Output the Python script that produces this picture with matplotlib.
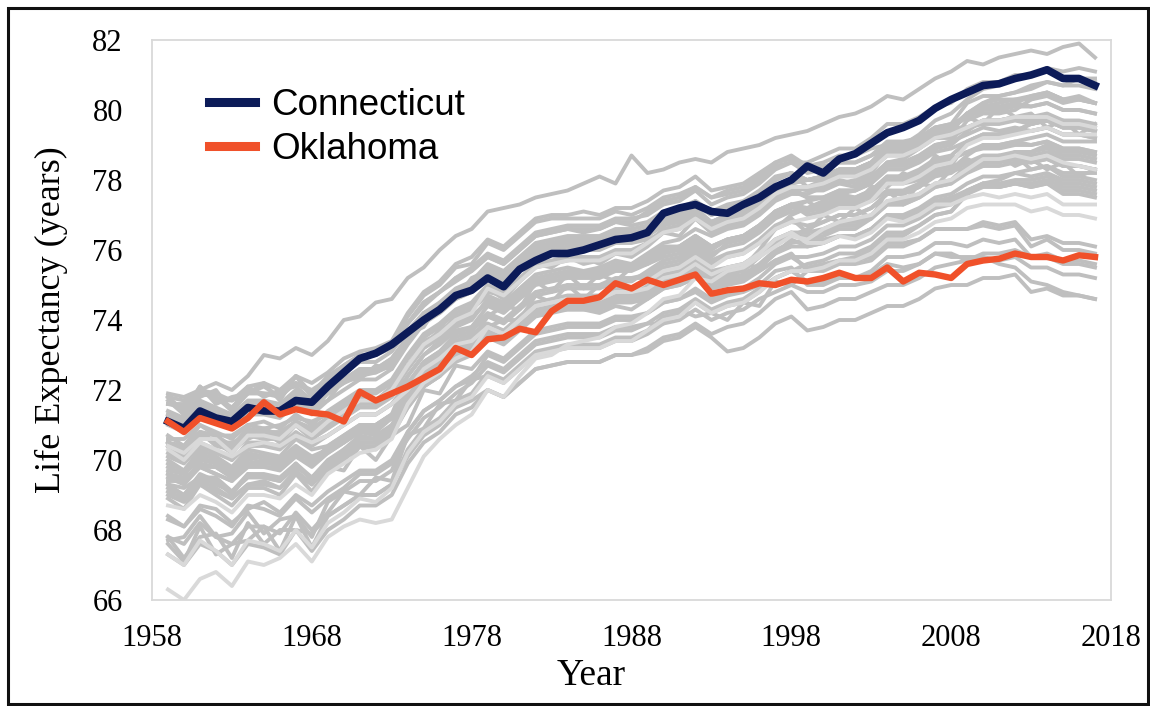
import matplotlib
matplotlib.use("Agg")
import matplotlib.pyplot as plt
from matplotlib.patches import Rectangle

# ---------------- data ----------------
years = list(range(1959, 2018))
x_ticks = [1958, 1968, 1978, 1988, 1998, 2008, 2018]
y_ticks = [66, 68, 70, 72, 74, 76, 78, 80, 82]

connecticut = [71.1, 70.9, 71.4, 71.2, 71.1, 71.5, 71.4, 71.4, 71.7, 71.65,
               72.1, 72.5, 72.9, 73.05, 73.3, 73.65, 74.0, 74.3, 74.7, 74.85,
               75.2, 74.95, 75.45, 75.7, 75.9, 75.9, 76.0, 76.15, 76.3, 76.35,
               76.5, 77.05, 77.2, 77.3, 77.1, 77.05, 77.3, 77.5, 77.8, 78.0,
               78.4, 78.2, 78.6, 78.75, 79.05, 79.35, 79.5, 79.7, 80.05, 80.3,
               80.5, 80.7, 80.75, 80.9, 81.0, 81.15, 80.9, 80.9, 80.7]

oklahoma = [71.1, 70.8, 71.2, 71.05, 70.9, 71.2, 71.65, 71.3, 71.45, 71.35,
            71.3, 71.1, 71.95, 71.7, 71.9, 72.1, 72.35, 72.6, 73.2, 73.0,
            73.45, 73.5, 73.75, 73.65, 74.25, 74.55, 74.55, 74.65, 75.05, 74.9,
            75.15, 75.0, 75.15, 75.3, 74.75, 74.85, 74.9, 75.05, 75.0, 75.15,
            75.1, 75.2, 75.35, 75.2, 75.2, 75.5, 75.1, 75.35, 75.3, 75.2,
            75.6, 75.7, 75.75, 75.9, 75.8, 75.8, 75.7, 75.85, 75.8]

g01 = [71.9, 71.8, 72.0, 72.2, 72.0, 72.4, 73.0, 72.9, 73.2, 73.0,
       73.4, 74.0, 74.1, 74.5, 74.6, 75.2, 75.5, 76.0, 76.4, 76.6,
       77.1, 77.2, 77.3, 77.5, 77.6, 77.7, 77.9, 78.1, 77.9, 78.7,
       78.2, 78.3, 78.5, 78.6, 78.5, 78.8, 78.9, 79.0, 79.2, 79.3,
       79.4, 79.6, 79.8, 79.9, 80.1, 80.4, 80.3, 80.6, 80.9, 81.1,
       81.4, 81.3, 81.5, 81.6, 81.7, 81.6, 81.8, 81.9, 81.5]
g02 = [70.5, 70.4, 70.8, 70.7, 70.4, 70.9, 70.8, 70.8, 71.1, 70.9,
       71.2, 71.5, 71.8, 71.7, 72.1, 72.7, 73.3, 73.7, 74.0, 74.3,
       74.7, 74.5, 74.9, 75.3, 75.4, 75.5, 75.4, 75.5, 75.7, 75.6,
       75.9, 76.2, 76.3, 76.6, 76.4, 76.6, 76.7, 77.0, 77.4, 77.6,
       77.6, 77.8, 77.9, 78.0, 78.2, 78.8, 79.0, 79.3, 79.7, 79.9,
       80.3, 80.6, 80.7, 80.9, 81.0, 81.2, 81.1, 81.2, 81.1]
g03 = [69.6, 69.4, 69.9, 69.8, 69.5, 69.9, 70.0, 69.8, 70.3, 70.0,
       70.2, 70.5, 70.8, 70.7, 71.0, 71.7, 72.3, 72.6, 73.0, 73.2,
       73.6, 73.4, 73.8, 74.2, 74.3, 74.3, 74.3, 74.2, 74.4, 74.3,
       74.6, 74.9, 75.0, 75.2, 75.0, 75.3, 75.5, 76.0, 76.6, 77.0,
       77.2, 77.4, 77.6, 77.7, 78.0, 78.5, 78.6, 78.9, 79.3, 79.5,
       79.9, 80.2, 80.4, 80.5, 80.6, 80.8, 80.7, 80.9, 80.9]
g04 = [71.6, 71.5, 71.9, 71.8, 71.4, 71.9, 71.9, 71.8, 72.2, 71.9,
       72.4, 72.7, 73.0, 73.0, 73.3, 74.1, 74.7, 75.0, 75.5, 75.6,
       76.2, 76.0, 76.4, 76.8, 76.9, 76.9, 76.9, 76.9, 77.1, 77.0,
       77.2, 77.5, 77.6, 77.8, 77.5, 77.6, 77.7, 78.0, 78.4, 78.5,
       78.5, 78.7, 78.9, 78.9, 79.2, 79.6, 79.6, 79.8, 80.1, 80.2,
       80.6, 80.8, 80.8, 81.0, 81.0, 81.1, 80.9, 80.9, 80.8]
g05 = [70.7, 70.4, 71.0, 70.8, 70.6, 71.0, 71.1, 70.9, 71.3, 71.0,
       71.4, 71.7, 72.0, 72.0, 72.3, 73.0, 73.6, 73.9, 74.3, 74.5,
       75.0, 74.8, 75.2, 75.6, 75.7, 75.8, 75.8, 75.8, 76.0, 76.0,
       76.2, 76.6, 76.7, 77.0, 76.7, 76.9, 77.0, 77.3, 77.7, 77.9,
       78.0, 78.1, 78.3, 78.3, 78.5, 79.0, 79.0, 79.2, 79.5, 79.6,
       80.2, 80.4, 80.4, 80.5, 80.7, 80.8, 80.7, 80.7, 80.6]
g06 = [70.6, 70.6, 71.0, 70.7, 70.7, 71.0, 70.9, 71.0, 71.2, 71.1,
       71.3, 71.6, 71.9, 71.9, 72.2, 72.9, 73.5, 73.8, 74.2, 74.4,
       74.8, 74.7, 75.1, 75.6, 75.5, 75.8, 75.6, 75.7, 75.9, 75.8,
       76.1, 76.5, 76.4, 76.9, 76.5, 76.7, 76.8, 77.2, 77.5, 77.8,
       77.8, 78.0, 78.2, 78.2, 78.4, 78.8, 78.8, 79.0, 79.3, 79.4,
       79.9, 80.2, 80.3, 80.3, 80.3, 80.5, 80.3, 80.4, 80.2]
g07 = [70.1, 69.9, 70.4, 70.2, 70.0, 70.4, 70.4, 70.3, 70.7, 70.4,
       70.7, 71.0, 71.3, 71.3, 71.6, 72.2, 72.8, 73.1, 73.5, 73.7,
       74.1, 73.9, 74.3, 74.7, 74.8, 74.9, 74.9, 74.9, 75.1, 75.1,
       75.4, 75.7, 75.8, 76.1, 75.8, 76.2, 76.3, 76.6, 77.0, 77.2,
       77.4, 77.5, 77.7, 77.7, 77.9, 78.5, 78.5, 78.7, 79.0, 79.1,
       79.7, 79.9, 79.9, 80.0, 80.3, 80.4, 80.2, 80.3, 80.2]
g08 = [71.0, 70.8, 71.3, 71.1, 70.9, 71.3, 71.3, 71.2, 71.6, 71.3,
       71.7, 72.0, 72.3, 72.3, 72.6, 73.3, 73.9, 74.2, 74.6, 74.8,
       75.3, 75.1, 75.5, 75.9, 76.0, 76.1, 76.1, 76.1, 76.3, 76.3,
       76.4, 76.7, 76.8, 77.1, 76.8, 77.0, 77.1, 77.4, 77.8, 78.0,
       78.0, 78.1, 78.3, 78.3, 78.5, 78.9, 78.9, 79.1, 79.4, 79.5,
       79.9, 80.1, 80.2, 80.3, 80.4, 80.5, 80.3, 80.3, 80.2]
g09 = [71.1, 70.9, 71.4, 71.2, 71.0, 71.4, 71.4, 71.3, 71.7, 71.4,
       71.9, 72.2, 72.4, 72.5, 72.7, 73.6, 74.2, 74.4, 74.8, 75.1,
       75.6, 75.4, 75.8, 76.2, 76.3, 76.4, 76.4, 76.4, 76.6, 76.6,
       76.7, 77.0, 77.1, 77.4, 77.1, 77.2, 77.3, 77.6, 78.0, 78.2,
       78.0, 78.1, 78.3, 78.3, 78.5, 78.8, 78.8, 79.0, 79.3, 79.4,
       79.9, 80.1, 80.1, 80.2, 80.4, 80.5, 80.3, 80.3, 80.2]
g10 = [71.8, 71.7, 72.0, 71.9, 71.7, 72.1, 72.2, 72.0, 72.4, 72.2,
       72.5, 72.9, 73.1, 73.2, 73.4, 74.2, 74.8, 75.1, 75.6, 75.8,
       76.3, 76.1, 76.5, 76.9, 77.0, 77.0, 77.1, 77.0, 77.2, 77.2,
       77.4, 77.7, 77.8, 78.1, 77.7, 77.8, 77.9, 78.2, 78.5, 78.7,
       78.4, 78.5, 78.7, 78.7, 78.9, 79.0, 79.0, 79.2, 79.5, 79.6,
       79.8, 80.1, 80.0, 80.2, 80.1, 80.2, 80.0, 80.0, 79.9]
g11 = [70.4, 70.4, 70.8, 70.5, 70.5, 70.7, 70.9, 70.6, 71.1, 70.9,
       71.2, 71.5, 71.8, 71.7, 72.0, 72.7, 73.4, 73.6, 74.1, 74.3,
       74.9, 74.6, 75.1, 75.5, 75.6, 75.7, 75.8, 75.6, 75.9, 75.9,
       76.2, 76.5, 76.7, 77.0, 76.7, 76.9, 77.0, 77.3, 77.7, 77.9,
       78.0, 78.1, 78.3, 78.3, 78.5, 78.9, 78.9, 79.1, 79.4, 79.5,
       79.8, 80.0, 80.0, 80.1, 80.1, 80.2, 80.0, 80.0, 79.9]
g12 = [71.2, 71.0, 71.5, 71.3, 71.1, 71.5, 71.5, 71.4, 71.8, 71.5,
       71.7, 72.3, 72.3, 72.7, 72.6, 73.6, 73.8, 74.5, 74.6, 75.2,
       75.4, 75.2, 75.6, 76.0, 76.1, 76.2, 76.2, 76.2, 76.4, 76.4,
       76.5, 76.8, 76.9, 77.2, 76.8, 77.0, 77.0, 77.3, 77.6, 77.8,
       77.7, 77.7, 77.9, 77.8, 78.0, 78.4, 78.4, 78.6, 78.9, 79.0,
       79.4, 79.7, 79.7, 79.8, 79.8, 79.9, 79.7, 79.7, 79.6]
g13 = [70.4, 70.2, 70.6, 70.6, 70.2, 70.7, 70.7, 70.6, 71.0, 70.7,
       71.1, 71.4, 71.7, 71.7, 72.0, 72.7, 73.3, 73.6, 74.0, 74.2,
       74.9, 74.7, 75.1, 75.5, 75.6, 75.7, 75.7, 75.7, 75.9, 75.9,
       76.2, 76.5, 76.6, 76.9, 76.6, 76.8, 76.9, 77.2, 77.6, 77.8,
       77.8, 77.9, 78.1, 78.1, 78.3, 78.7, 78.7, 78.9, 79.2, 79.3,
       79.5, 79.7, 79.7, 79.8, 79.8, 79.8, 79.6, 79.6, 79.5]
g14 = [71.7, 71.3, 72.1, 71.6, 71.8, 71.9, 72.2, 71.7, 72.4, 71.8,
       72.3, 72.7, 73.0, 73.0, 73.3, 73.9, 74.5, 74.8, 75.2, 75.5,
       75.9, 75.7, 76.1, 76.5, 76.6, 76.7, 76.7, 76.7, 76.9, 76.9,
       77.0, 77.3, 77.4, 77.7, 77.3, 77.5, 77.6, 77.9, 78.3, 78.5,
       78.2, 78.3, 78.5, 78.5, 78.7, 78.9, 78.9, 79.1, 79.4, 79.5,
       79.5, 79.7, 79.7, 79.8, 79.6, 79.7, 79.5, 79.5, 79.4]
g15 = [71.3, 71.2, 71.6, 71.4, 71.2, 71.6, 71.6, 71.5, 71.9, 71.6,
       72.0, 72.3, 72.6, 72.6, 72.9, 73.5, 74.1, 74.4, 74.8, 75.1,
       75.5, 75.3, 75.7, 76.1, 76.2, 76.3, 76.3, 76.3, 76.5, 76.5,
       76.6, 76.9, 77.0, 77.3, 77.0, 77.2, 77.3, 77.6, 78.0, 78.2,
       78.0, 78.1, 78.3, 78.3, 78.5, 78.8, 78.8, 79.0, 79.3, 79.4,
       79.5, 79.7, 79.7, 79.8, 79.7, 79.8, 79.6, 79.6, 79.5]
g16 = [71.8, 71.4, 72.1, 71.7, 71.7, 71.9, 72.1, 71.8, 72.4, 71.9,
       72.3, 72.6, 72.9, 73.0, 73.3, 73.9, 74.5, 74.8, 75.2, 75.4,
       75.8, 75.6, 76.0, 76.4, 76.5, 76.6, 76.6, 76.6, 76.8, 76.8,
       77.1, 77.4, 77.5, 77.8, 77.5, 77.7, 77.8, 78.1, 78.5, 78.6,
       78.3, 78.4, 78.5, 78.5, 78.7, 79.1, 79.1, 79.2, 79.5, 79.5,
       79.8, 79.6, 80.1, 79.8, 79.9, 79.5, 79.7, 79.3, 79.6]
g17 = [71.6, 71.6, 71.9, 71.8, 71.5, 72.0, 71.9, 71.9, 72.2, 72.0,
       72.3, 72.6, 72.9, 73.0, 73.2, 73.9, 74.4, 74.8, 75.1, 75.4,
       75.8, 75.6, 76.0, 76.4, 76.5, 76.6, 76.5, 76.6, 76.8, 76.7,
       76.8, 77.1, 77.2, 77.4, 77.1, 77.3, 77.4, 77.7, 78.1, 78.2,
       78.0, 78.0, 78.2, 78.1, 78.3, 78.7, 78.7, 78.9, 79.2, 79.2,
       79.5, 79.6, 79.6, 79.7, 79.6, 79.7, 79.5, 79.5, 79.4]
g18 = [71.3, 71.1, 71.6, 71.3, 71.2, 71.6, 71.5, 71.5, 71.8, 71.6,
       71.9, 72.2, 72.5, 72.5, 72.8, 73.4, 74.0, 74.2, 74.6, 74.8,
       75.2, 75.0, 75.4, 75.8, 75.9, 76.0, 76.0, 76.0, 76.2, 76.2,
       76.3, 76.5, 76.6, 76.9, 76.5, 76.7, 76.8, 77.1, 77.5, 77.7,
       77.5, 77.5, 77.7, 77.7, 77.9, 78.3, 78.3, 78.5, 78.8, 78.9,
       79.1, 79.3, 79.3, 79.4, 79.4, 79.5, 79.3, 79.3, 79.2]
g19 = [71.4, 71.2, 71.7, 71.5, 71.3, 71.7, 71.7, 71.6, 72.0, 71.7,
       72.0, 72.3, 72.6, 72.6, 72.9, 73.5, 74.1, 74.4, 74.8, 75.0,
       75.4, 75.2, 75.6, 76.0, 76.1, 76.2, 76.2, 76.2, 76.4, 76.4,
       76.6, 76.9, 77.0, 77.3, 77.0, 77.2, 77.3, 77.6, 78.0, 78.2,
       77.8, 77.8, 78.0, 77.9, 78.1, 78.5, 78.5, 78.7, 79.0, 79.1,
       79.3, 79.5, 79.4, 79.5, 79.4, 79.5, 79.3, 79.3, 79.2]
g20 = [71.8, 71.3, 71.8, 72.0, 71.4, 72.1, 71.8, 72.0, 72.1, 71.7,
       72.2, 72.5, 72.8, 72.8, 73.1, 73.7, 74.2, 74.5, 74.9, 75.1,
       75.5, 75.3, 75.7, 76.1, 76.2, 76.3, 76.3, 76.3, 76.5, 76.5,
       76.5, 76.8, 76.9, 77.1, 76.8, 77.0, 77.1, 77.4, 77.7, 77.8,
       77.5, 77.5, 77.6, 77.5, 77.7, 78.1, 78.1, 78.2, 78.5, 78.6,
       78.8, 78.9, 78.9, 79.0, 79.0, 79.1, 78.9, 78.9, 78.8]
g21 = [69.5, 69.3, 69.8, 69.6, 69.4, 69.9, 69.8, 69.8, 70.1, 69.9,
       70.4, 70.7, 71.0, 71.0, 71.3, 72.4, 73.0, 73.4, 73.8, 74.0,
       74.6, 74.4, 74.8, 75.2, 75.3, 75.4, 75.4, 75.4, 75.6, 75.6,
       75.8, 76.1, 76.1, 76.4, 76.1, 76.3, 76.4, 76.7, 77.1, 77.3,
       77.4, 77.1, 77.7, 77.3, 77.8, 77.8, 78.2, 78.0, 78.7, 78.4,
       79.1, 79.3, 79.3, 79.4, 79.6, 79.7, 79.5, 79.5, 79.4]
g22 = [69.4, 69.4, 69.8, 69.6, 69.4, 69.8, 69.8, 69.7, 70.1, 69.8,
       70.2, 70.5, 70.8, 70.8, 71.2, 72.1, 72.8, 73.1, 73.6, 73.8,
       74.4, 74.2, 74.6, 75.0, 75.1, 75.2, 75.2, 75.2, 75.4, 75.4,
       75.6, 75.8, 75.9, 76.2, 75.9, 76.1, 76.2, 76.5, 76.9, 77.1,
       77.2, 77.3, 77.5, 77.5, 77.7, 78.1, 78.1, 78.3, 78.6, 78.7,
       79.1, 79.3, 79.3, 79.4, 79.6, 79.7, 79.5, 79.5, 79.4]
g23 = [68.7, 68.6, 69.0, 68.8, 68.5, 69.0, 69.0, 68.9, 69.3, 69.0,
       69.6, 69.9, 70.2, 70.3, 70.6, 71.6, 72.2, 72.5, 72.9, 73.1,
       73.8, 73.6, 74.0, 74.4, 74.5, 74.6, 74.6, 74.6, 74.8, 74.8,
       75.1, 75.4, 75.5, 75.8, 75.5, 75.8, 75.9, 76.2, 76.6, 76.8,
       76.9, 77.0, 77.2, 77.2, 77.4, 77.9, 77.9, 78.1, 78.4, 78.5,
       79.0, 79.2, 79.2, 79.3, 79.4, 79.5, 79.3, 79.3, 79.3]
g24 = [69.0, 68.8, 69.3, 69.1, 68.9, 69.3, 69.3, 69.2, 69.6, 69.3,
       69.8, 70.1, 70.4, 70.4, 70.7, 71.5, 72.1, 72.4, 72.8, 73.0,
       73.6, 73.4, 73.8, 74.2, 74.3, 74.4, 74.4, 74.4, 74.6, 74.6,
       74.7, 75.0, 75.1, 75.3, 75.0, 75.2, 75.3, 75.6, 76.0, 76.2,
       76.3, 76.4, 76.6, 76.6, 76.9, 77.3, 77.3, 77.5, 77.8, 77.9,
       78.3, 78.6, 78.6, 78.8, 78.8, 79.0, 78.8, 78.8, 78.7]
g25 = [70.4, 70.1, 70.7, 70.5, 70.2, 70.7, 70.6, 70.6, 71.0, 70.6,
       71.0, 71.3, 71.6, 71.6, 71.9, 72.6, 73.2, 73.5, 73.9, 74.1,
       74.5, 74.3, 74.7, 75.1, 75.2, 75.3, 75.3, 75.3, 75.5, 75.5,
       75.7, 76.0, 76.1, 76.4, 76.1, 76.3, 76.4, 76.7, 77.1, 77.3,
       77.2, 77.2, 77.4, 77.4, 77.6, 78.0, 78.0, 78.2, 78.5, 78.6,
       78.8, 79.0, 79.0, 79.1, 79.0, 79.1, 78.9, 78.9, 78.8]
g26 = [69.8, 69.6, 70.1, 69.9, 69.6, 70.1, 70.1, 70.0, 70.4, 70.1,
       70.3, 70.6, 70.9, 70.9, 71.2, 71.8, 72.4, 72.7, 73.1, 73.3,
       73.7, 73.5, 73.9, 74.3, 74.4, 74.5, 74.5, 74.5, 74.7, 74.7,
       74.8, 75.1, 75.2, 75.4, 75.1, 75.3, 75.4, 75.8, 76.2, 76.4,
       76.6, 76.8, 77.0, 77.0, 77.2, 77.6, 77.6, 77.8, 78.2, 78.3,
       78.7, 79.0, 79.0, 79.1, 79.2, 79.3, 79.1, 79.1, 79.1]
g27 = [69.7, 69.6, 70.0, 69.9, 69.6, 70.0, 70.1, 69.9, 70.3, 70.0,
       70.3, 70.6, 70.9, 70.9, 71.2, 71.8, 72.4, 72.7, 73.1, 73.3,
       73.7, 73.5, 73.9, 74.3, 74.4, 74.5, 74.5, 74.5, 74.7, 74.7,
       74.9, 75.2, 75.3, 75.6, 75.3, 75.5, 75.6, 75.9, 76.3, 76.5,
       76.5, 76.6, 76.8, 76.8, 77.0, 77.4, 77.4, 77.6, 77.9, 78.0,
       78.4, 78.6, 78.6, 78.7, 78.7, 78.8, 78.6, 78.6, 78.5]
g28 = [69.6, 69.5, 69.8, 69.8, 69.5, 69.9, 69.9, 69.9, 70.2, 70.0,
       70.3, 70.6, 70.9, 71.0, 71.3, 71.9, 72.5, 72.9, 73.3, 73.5,
       73.8, 74.0, 74.0, 74.7, 74.5, 75.0, 74.6, 75.0, 74.9, 75.2,
       75.2, 75.5, 75.6, 75.9, 75.6, 75.8, 75.9, 76.2, 76.6, 76.8,
       76.7, 76.8, 77.0, 77.0, 77.2, 77.6, 77.6, 77.8, 78.1, 78.2,
       78.5, 78.7, 78.7, 78.8, 78.8, 78.9, 78.7, 78.7, 78.6]
g29 = [70.5, 70.3, 70.8, 70.7, 70.3, 70.8, 70.9, 70.7, 71.1, 70.8,
       71.1, 71.4, 71.7, 71.7, 72.0, 72.6, 73.2, 73.5, 73.9, 74.1,
       74.5, 74.3, 74.7, 75.1, 75.2, 75.3, 75.3, 75.3, 75.5, 75.5,
       75.7, 76.0, 76.1, 76.4, 76.1, 76.3, 76.4, 76.7, 77.1, 77.3,
       77.0, 77.1, 77.3, 77.3, 77.4, 77.7, 77.7, 77.9, 78.2, 78.3,
       78.6, 78.4, 78.7, 78.4, 78.6, 78.3, 78.5, 78.1, 78.3]
g30 = [69.3, 69.2, 69.5, 69.5, 69.1, 69.6, 69.6, 69.5, 69.9, 69.5,
       70.0, 70.3, 70.7, 70.6, 71.0, 71.8, 72.5, 72.8, 73.2, 73.4,
       74.1, 74.4, 74.3, 75.1, 74.8, 75.3, 74.9, 75.3, 75.1, 75.5,
       75.6, 75.9, 76.0, 76.3, 76.0, 76.3, 76.4, 76.7, 77.1, 77.3,
       77.1, 77.2, 77.4, 77.4, 77.5, 77.9, 77.9, 78.0, 78.3, 78.4,
       78.5, 78.6, 78.6, 78.7, 78.3, 78.4, 78.1, 78.1, 78.0]
g31 = [70.5, 70.1, 70.8, 70.4, 70.3, 70.6, 70.8, 70.5, 71.0, 70.6,
       70.9, 71.2, 71.5, 71.5, 71.8, 72.4, 73.0, 73.3, 73.7, 73.8,
       74.2, 74.0, 74.4, 74.8, 74.9, 75.0, 75.0, 75.0, 75.2, 75.2,
       75.3, 75.6, 75.7, 76.0, 75.7, 75.9, 76.0, 76.3, 76.7, 76.9,
       76.5, 77.0, 76.8, 77.2, 76.9, 77.7, 77.3, 77.9, 77.8, 78.3,
       78.3, 78.5, 78.5, 78.6, 78.5, 78.6, 78.4, 78.4, 78.3]
g32 = [69.2, 69.0, 69.5, 69.3, 69.1, 69.5, 69.5, 69.4, 69.8, 69.5,
       69.9, 70.2, 70.5, 70.5, 70.8, 71.5, 72.1, 72.4, 72.9, 73.1,
       73.7, 73.5, 73.9, 74.3, 74.4, 74.5, 74.5, 74.5, 74.7, 74.7,
       74.8, 75.1, 75.2, 75.5, 75.2, 75.4, 75.5, 75.8, 76.2, 76.4,
       76.4, 76.5, 76.7, 76.7, 76.9, 77.3, 77.3, 77.5, 77.8, 77.9,
       78.2, 78.4, 78.4, 78.5, 78.5, 78.6, 78.4, 78.4, 78.3]
g33 = [66.3, 66.0, 66.6, 66.8, 66.4, 67.1, 67.0, 67.2, 67.6, 67.1,
       67.8, 68.1, 68.3, 68.2, 68.3, 69.2, 70.1, 70.6, 71.0, 71.3,
       72.0, 71.8, 72.4, 72.9, 73.0, 73.3, 73.4, 73.5, 73.8, 73.9,
       74.2, 74.6, 74.7, 75.2, 75.1, 75.4, 75.5, 75.8, 76.1, 76.4,
       76.3, 76.6, 76.8, 76.9, 77.0, 77.4, 77.5, 77.6, 77.9, 78.0,
       78.3, 78.6, 78.6, 78.7, 78.6, 78.7, 78.5, 78.4, 78.3]
g34 = [68.4, 68.1, 68.7, 68.6, 68.2, 68.6, 68.8, 68.5, 69.0, 68.7,
       69.1, 69.4, 69.7, 69.7, 70.0, 70.8, 71.4, 71.7, 72.1, 72.4,
       72.8, 72.6, 73.0, 73.4, 73.5, 73.6, 73.6, 73.6, 73.8, 73.8,
       73.9, 73.9, 74.3, 74.1, 74.2, 74.0, 74.5, 74.4, 75.1, 75.0,
       75.4, 75.5, 75.7, 75.8, 76.0, 76.4, 76.4, 76.7, 77.0, 77.1,
       77.6, 77.9, 78.0, 78.2, 78.3, 78.4, 78.2, 78.2, 78.2]
g35 = [69.9, 69.7, 70.2, 70.0, 69.7, 70.2, 70.1, 70.0, 70.4, 70.0,
       70.3, 70.5, 70.9, 70.9, 71.2, 71.8, 72.3, 72.6, 73.0, 73.2,
       73.6, 73.4, 73.8, 74.2, 74.3, 74.4, 74.4, 74.4, 74.6, 74.6,
       74.7, 75.0, 75.0, 75.3, 75.0, 75.1, 75.2, 75.5, 75.9, 76.1,
       76.1, 76.2, 76.4, 76.4, 76.6, 77.0, 77.0, 77.2, 77.5, 77.6,
       77.9, 78.1, 78.1, 78.2, 78.1, 78.2, 78.0, 78.0, 77.9]
g36 = [70.0, 69.7, 70.3, 70.1, 69.8, 70.3, 70.2, 70.1, 70.6, 70.3,
       70.4, 70.7, 71.0, 71.0, 71.3, 71.8, 72.4, 72.7, 73.1, 73.3,
       73.6, 73.4, 73.8, 74.2, 74.3, 74.4, 74.4, 74.4, 74.6, 74.6,
       74.9, 75.0, 75.3, 75.2, 75.2, 75.1, 75.6, 75.5, 75.9, 76.3,
       76.1, 76.2, 76.4, 76.4, 76.6, 77.0, 76.9, 77.1, 77.4, 77.4,
       77.7, 77.9, 77.8, 77.9, 77.8, 77.9, 77.7, 77.7, 77.6]
g37 = [70.2, 70.0, 70.5, 70.3, 70.0, 70.5, 70.5, 70.4, 70.8, 70.5,
       70.7, 71.0, 71.3, 71.3, 71.6, 72.1, 72.7, 73.0, 73.4, 73.6,
       73.9, 73.7, 74.1, 74.5, 74.6, 74.7, 74.7, 74.7, 74.9, 74.9,
       75.0, 75.3, 75.4, 75.7, 75.4, 75.5, 75.6, 75.9, 76.3, 76.5,
       76.3, 76.3, 76.4, 76.4, 76.6, 77.0, 76.9, 77.1, 77.4, 77.5,
       77.7, 77.9, 77.8, 77.9, 77.8, 77.9, 77.6, 77.6, 77.5]
g38 = [70.3, 70.0, 70.5, 70.3, 70.1, 70.4, 70.5, 70.4, 70.7, 70.5,
       70.7, 71.0, 71.3, 71.3, 71.6, 72.0, 72.6, 72.9, 73.3, 73.4,
       73.8, 73.6, 74.0, 74.4, 74.5, 74.6, 74.6, 74.6, 74.8, 74.8,
       74.9, 75.2, 75.3, 75.6, 75.3, 75.5, 75.6, 75.9, 76.3, 76.5,
       76.2, 76.2, 76.4, 76.3, 76.5, 76.9, 76.8, 77.0, 77.3, 77.3,
       77.5, 77.6, 77.5, 77.6, 77.5, 77.6, 77.3, 77.3, 77.3]
g39 = [67.7, 67.8, 68.4, 67.8, 67.9, 68.5, 67.9, 68.3, 68.4, 67.8,
       68.8, 69.1, 69.4, 69.4, 69.7, 70.8, 71.4, 71.7, 72.1, 72.3,
       73.0, 72.8, 73.2, 73.6, 73.7, 73.8, 73.8, 73.8, 74.0, 74.0,
       74.2, 74.5, 74.6, 74.9, 74.6, 74.8, 74.9, 75.2, 75.6, 75.8,
       75.8, 75.9, 76.1, 76.1, 76.3, 76.7, 76.7, 76.9, 77.2, 77.3,
       77.7, 77.9, 77.9, 78.0, 78.0, 78.1, 77.9, 77.9, 77.8]
g40 = [67.6, 67.1, 68.1, 67.3, 67.6, 67.7, 68.1, 67.4, 68.4, 67.5,
       68.4, 68.7, 69.0, 69.0, 69.3, 70.3, 70.9, 71.2, 71.7, 71.9,
       72.5, 72.3, 72.7, 73.1, 73.2, 73.3, 73.3, 73.3, 73.5, 73.5,
       73.7, 74.1, 74.2, 74.5, 74.2, 74.4, 74.5, 74.8, 75.2, 75.4,
       75.6, 75.7, 75.9, 75.9, 76.1, 76.5, 76.5, 76.7, 77.0, 77.1,
       77.6, 77.8, 77.8, 77.9, 77.9, 78.0, 77.8, 77.8, 77.7]
g41 = [67.3, 67.0, 67.7, 67.4, 67.0, 67.7, 67.6, 67.4, 68.0, 67.5,
       68.2, 68.5, 68.9, 68.8, 69.2, 70.2, 70.8, 71.1, 71.6, 71.8,
       72.4, 72.2, 72.6, 73.0, 73.1, 73.2, 73.2, 73.2, 73.4, 73.4,
       73.7, 74.0, 74.1, 74.5, 74.2, 74.4, 74.5, 74.8, 75.2, 75.4,
       75.4, 75.5, 75.7, 75.7, 75.9, 76.3, 76.3, 76.5, 76.8, 76.9,
       77.2, 77.3, 77.3, 77.3, 77.1, 77.2, 77.0, 77.0, 76.9]
g42 = [68.9, 68.6, 69.3, 69.0, 68.7, 69.2, 69.2, 69.0, 69.6, 69.1,
       69.7, 70.0, 70.4, 70.3, 70.7, 71.6, 72.1, 72.4, 72.9, 73.1,
       73.5, 73.3, 73.7, 74.1, 74.2, 74.3, 74.3, 74.3, 74.5, 74.5,
       74.6, 74.9, 75.0, 75.2, 74.9, 75.0, 75.1, 75.4, 75.7, 75.8,
       75.5, 75.6, 75.7, 75.7, 75.8, 76.2, 76.2, 76.3, 76.6, 76.6,
       76.6, 76.8, 76.7, 76.8, 76.3, 76.4, 76.2, 76.2, 76.1]
g43 = [69.3, 69.0, 69.6, 69.4, 69.0, 69.6, 69.5, 69.4, 69.9, 69.4,
       69.9, 70.3, 70.6, 70.6, 70.9, 71.7, 72.3, 72.6, 73.0, 73.2,
       73.7, 73.5, 73.9, 74.3, 74.4, 74.5, 74.5, 74.5, 74.7, 74.7,
       74.8, 75.1, 75.1, 75.4, 75.0, 75.1, 75.2, 75.4, 75.7, 75.9,
       75.4, 75.4, 75.6, 75.6, 75.7, 76.1, 76.1, 76.3, 76.6, 76.6,
       76.6, 76.7, 76.6, 76.7, 76.1, 76.3, 76.0, 76.0, 75.9]
g44 = [69.1, 68.9, 69.4, 69.2, 68.9, 69.3, 69.4, 69.2, 69.7, 69.3,
       69.8, 69.7, 70.4, 70.0, 70.7, 71.0, 72.0, 71.9, 72.7, 72.6,
       73.1, 72.9, 73.3, 73.7, 73.8, 73.9, 73.9, 73.9, 74.1, 74.1,
       74.2, 74.5, 74.6, 74.8, 74.5, 74.7, 74.8, 75.0, 75.4, 75.5,
       75.0, 75.0, 75.2, 75.2, 75.4, 75.8, 75.8, 75.9, 76.2, 76.2,
       76.1, 76.3, 76.2, 76.3, 75.8, 75.8, 75.6, 75.6, 75.5]
g45 = [67.8, 67.2, 67.8, 67.9, 67.2, 68.2, 67.6, 68.0, 68.0, 67.9,
       68.4, 68.7, 69.0, 69.0, 69.3, 70.1, 70.7, 71.0, 71.5, 71.7,
       72.0, 71.8, 72.2, 72.6, 72.7, 72.8, 72.8, 72.8, 73.0, 73.0,
       73.2, 73.5, 73.6, 73.9, 73.6, 73.8, 73.9, 74.2, 74.6, 74.8,
       74.3, 74.4, 74.6, 74.6, 74.8, 75.0, 75.0, 75.2, 75.5, 75.6,
       75.7, 75.9, 75.9, 76.0, 75.8, 75.9, 75.7, 75.7, 75.6]
g46 = [67.8, 67.6, 68.2, 67.8, 67.6, 68.1, 68.1, 67.9, 68.5, 68.0,
       68.5, 69.1, 69.0, 69.5, 69.4, 70.7, 70.9, 71.6, 71.7, 72.3,
       72.4, 72.2, 72.6, 73.0, 73.1, 73.2, 73.2, 73.2, 73.4, 73.4,
       73.6, 73.9, 74.0, 74.3, 74.0, 74.2, 74.3, 74.6, 74.8, 75.0,
       74.8, 74.8, 75.0, 75.0, 75.1, 75.4, 75.4, 75.6, 75.9, 75.9,
       75.7, 75.8, 75.7, 75.8, 75.5, 75.5, 75.3, 75.3, 75.2]
g47 = [68.3, 68.1, 68.6, 68.4, 68.1, 68.7, 68.6, 68.4, 68.9, 68.5,
       68.9, 69.2, 69.6, 69.6, 69.9, 70.6, 71.2, 71.5, 71.9, 72.2,
       72.7, 72.5, 72.9, 73.3, 73.4, 73.5, 73.5, 73.5, 73.7, 73.7,
       73.9, 74.2, 74.3, 74.6, 74.3, 74.5, 74.6, 74.9, 75.2, 75.4,
       75.1, 75.1, 75.2, 75.2, 75.3, 75.6, 75.5, 75.6, 75.9, 75.8,
       75.8, 75.8, 75.6, 75.5, 75.1, 75.0, 74.8, 74.7, 74.6]
g48 = [67.3, 67.0, 67.6, 67.4, 67.0, 67.6, 67.5, 67.3, 68.0, 67.4,
       68.0, 68.3, 68.7, 68.7, 69.0, 69.9, 70.5, 70.8, 71.3, 71.5,
       72.0, 71.8, 72.2, 72.6, 72.7, 72.8, 72.8, 72.8, 73.0, 73.0,
       73.1, 73.4, 73.5, 73.8, 73.5, 73.1, 73.2, 73.5, 73.9, 74.1,
       73.7, 73.8, 74.0, 74.0, 74.2, 74.4, 74.4, 74.6, 74.9, 75.0,
       75.0, 75.2, 75.2, 75.3, 74.8, 74.9, 74.7, 74.7, 74.6]

grey_lines = [g01, g02, g03, g04, g05, g06, g07, g08, g09, g10, g11, g12,
              g14, g15, g16, g17, g18, g19, g20, g21, g22, g24, g25, g26,
              g27, g28, g29, g30, g31, g32, g34, g35, g36, g37, g39, g40,
              g42, g43, g44, g45, g46, g47, g48]
light_grey_lines = [g13, g23, g33, g38, g41]

# ---------------- figure ----------------
W, H = 1150, 706
fig = plt.figure(figsize=(W / 100, H / 100), dpi=100)
ax = fig.add_axes([152 / W, (H - 600) / H, 959 / W, 560 / H])

for s in grey_lines:
    ax.plot(years, s, color="#bfbfbf", lw=2.8, zorder=2)
for s in light_grey_lines:
    ax.plot(years, s, color="#d9d9d9", lw=2.8, zorder=2)

l_ct, = ax.plot(years, connecticut, color="#0c1b58", lw=5.5, zorder=4,
                label="Connecticut")
l_ok, = ax.plot(years, oklahoma, color="#f0512a", lw=4.6, zorder=5,
                label="Oklahoma")

ax.set_xlim(1958, 2018)
ax.set_ylim(66, 82)
ax.set_xticks(x_ticks)
ax.set_yticks(y_ticks)

serif = "Liberation Serif"
for lab in ax.get_xticklabels() + ax.get_yticklabels():
    lab.set_fontfamily(serif)
    lab.set_fontsize(22)
ax.tick_params(axis="both", length=0, colors="#000000")
ax.tick_params(axis="y", pad=21)
ax.tick_params(axis="x", pad=17)

for sp in ax.spines.values():
    sp.set_color("#d9d9d9")
    sp.set_linewidth(1.3)

ax.set_xlabel("Year", fontfamily=serif, fontsize=27)
ax.set_ylabel("Life Expectancy (years)", fontfamily=serif, fontsize=26)
ax.xaxis.set_label_coords(0.458, -0.105)
ax.yaxis.set_label_coords(-0.088, 0.5)

leg = ax.legend(handles=[l_ct, l_ok], loc="upper left",
                bbox_to_anchor=(0.059, 0.915), frameon=False,
                prop={"family": "Liberation Sans", "size": 26.5},
                handlelength=1.25, handletextpad=0.45, labelspacing=0.26,
                borderpad=0, borderaxespad=0)
for h in leg.get_lines():
    h.set_linewidth(6.5)

fig.patches.append(Rectangle((8 / W, 2 / H), (1148 - 8) / W, (704 - 8) / H,
                             transform=fig.transFigure, fill=False,
                             edgecolor="#111111", lw=2.2, zorder=10))

fig.savefig("out.png", dpi=100)
